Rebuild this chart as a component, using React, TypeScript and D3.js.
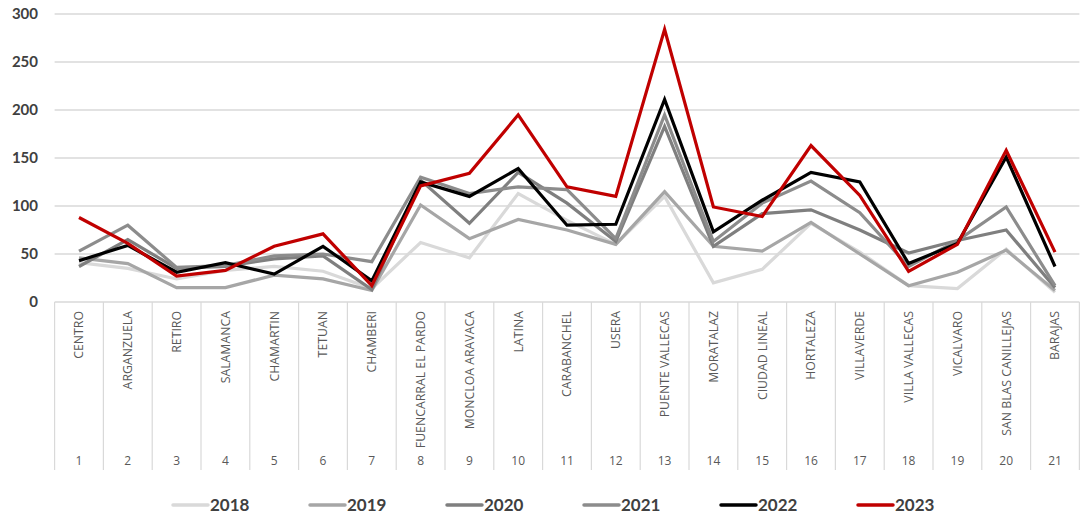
import { useEffect, useRef } from "react";
import * as d3 from "d3";

const districts = [
  "CENTRO",
  "ARGANZUELA",
  "RETIRO",
  "SALAMANCA",
  "CHAMARTIN",
  "TETUAN",
  "CHAMBERI",
  "FUENCARRAL EL PARDO",
  "MONCLOA ARAVACA",
  "LATINA",
  "CARABANCHEL",
  "USERA",
  "PUENTE VALLECAS",
  "MORATALAZ",
  "CIUDAD LINEAL",
  "HORTALEZA",
  "VILLAVERDE",
  "VILLA VALLECAS",
  "VICALVARO",
  "SAN BLAS CANILLEJAS",
  "BARAJAS",
];

const yTicks = [0, 50, 100, 150, 200, 250, 300];

const years = ["2018", "2019", "2020", "2021", "2022", "2023"];
const colors = ["#d9d9d9", "#a6a6a6", "#7f7f7f", "#8c8c8c", "#000000", "#c00000"];

const v2018 = [41, 35, 24, 33, 37, 32, 14, 62, 46, 113, 85, 60, 110, 20, 34, 82, 52, 17, 14, 55, 10];
const v2019 = [46, 40, 15, 15, 28, 24, 12, 101, 66, 86, 75, 60, 115, 58, 53, 83, 50, 17, 31, 54, 12];
const v2020 = [37, 65, 35, 37, 45, 48, 13, 127, 82, 135, 103, 63, 183, 58, 92, 96, 75, 51, 64, 75, 15];
const v2021 = [53, 80, 36, 38, 48, 50, 42, 130, 113, 120, 117, 66, 195, 63, 103, 126, 93, 37, 64, 99, 17];
const v2022 = [43, 59, 31, 41, 29, 58, 22, 125, 110, 139, 80, 81, 211, 73, 106, 135, 125, 40, 61, 151, 37];
const v2023 = [88, 61, 27, 33, 58, 71, 17, 121, 134, 195, 120, 110, 284, 99, 89, 163, 111, 32, 60, 158, 52];

const series = [v2018, v2019, v2020, v2021, v2022, v2023];

const W = 1083;
const H = 515;

const App = () => {
  const ref = useRef<SVGSVGElement>(null);

  useEffect(() => {
    const svg = d3.select(ref.current);
    svg.selectAll("*").remove();

    const x = d3.scaleBand().domain(districts).range([54.6, 1079.4]);
    const y = d3.scaleLinear().domain([0, 300]).range([302, 14]);

    // gridlines
    svg
      .append("g")
      .selectAll("line")
      .data(yTicks)
      .join("line")
      .attr("x1", 54.6)
      .attr("x2", 1079.4)
      .attr("y1", (d) => y(d))
      .attr("y2", (d) => y(d))
      .attr("stroke", "#d9d9d9")
      .attr("stroke-width", 1.5);

    svg
      .append("g")
      .attr("font-family", "Lato, sans-serif")
      .attr("font-weight", "bold")
      .attr("font-size", 15)
      .attr("fill", "#404040")
      .attr("text-anchor", "end")
      .selectAll("text")
      .data(yTicks)
      .join("text")
      .attr("x", 38)
      .attr("y", (d) => y(d))
      .attr("dy", "0.36em")
      .text((d) => d);

    // category separators
    const bounds = districts.map((d) => x(d)!).concat([1079.4]);
    svg
      .append("g")
      .selectAll("line")
      .data(bounds)
      .join("line")
      .attr("x1", (d) => d)
      .attr("x2", (d) => d)
      .attr("y1", 302)
      .attr("y2", 470)
      .attr("stroke", "#d9d9d9")
      .attr("stroke-width", 1.2);

    const cat = svg
      .append("g")
      .attr("font-family", "'Open Sans', sans-serif")
      .attr("fill", "#595959");

    cat
      .selectAll("text.name")
      .data(districts)
      .join("text")
      .attr("class", "name")
      .attr("font-size", 12.3)
      .attr("text-anchor", "end")
      .attr("dy", "0.35em")
      .attr(
        "transform",
        (d) => `translate(${x(d)! + x.bandwidth() / 2},311) rotate(-90)`
      )
      .text((d) => d);

    cat
      .selectAll("text.num")
      .data(districts)
      .join("text")
      .attr("class", "num")
      .attr("font-size", 12)
      .attr("text-anchor", "middle")
      .attr("x", (d) => x(d)! + x.bandwidth() / 2)
      .attr("y", 465)
      .text((d, i) => i + 1);

    const line = d3
      .line<number>()
      .x((d, i) => x(districts[i])! + x.bandwidth() / 2)
      .y((d) => y(d));

    svg
      .append("g")
      .selectAll("path")
      .data(series)
      .join("path")
      .attr("fill", "none")
      .attr("stroke", (d, i) => colors[i])
      .attr("stroke-width", 3.2)
      .attr("stroke-linejoin", "miter")
      .attr("d", (d) => line(d));

    // legend
    const legend = svg
      .append("g")
      .selectAll("g")
      .data(years)
      .join("g")
      .attr("transform", (d, i) => `translate(${173 + i * 137},505)`);

    legend
      .append("line")
      .attr("x1", 0)
      .attr("x2", 35)
      .attr("stroke", (d, i) => colors[i])
      .attr("stroke-width", 3.5)
      .attr("stroke-linecap", "round");

    legend
      .append("text")
      .attr("x", 37)
      .attr("dy", "0.36em")
      .attr("font-family", "Lato, sans-serif")
      .attr("font-weight", "bold")
      .attr("font-size", 17)
      .attr("fill", "#404040")
      .text((d) => d);
  }, []);

  return (
    <svg
      ref={ref}
      width={W}
      height={H}
      style={{ position: "absolute", left: 0, top: 0, background: "#fff" }}
    />
  );
};

export default App;
